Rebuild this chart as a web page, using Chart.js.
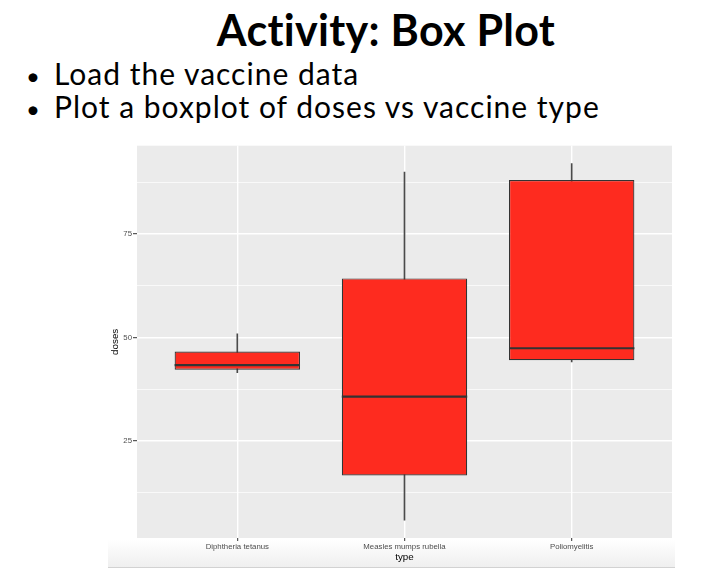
<!DOCTYPE html>
<html>
<head>
<meta charset="utf-8">
<script src="https://cdn.jsdelivr.net/npm/chart.js@4.4.1/dist/chart.umd.min.js"></script>
<style>
  html, body { margin: 0; padding: 0; background: #fff; }
  body { width: 720px; height: 588px; position: relative; overflow: hidden; font-family: Lato, "Open Sans", sans-serif; color: #000; }
  .title { position: absolute; left: 0; width: 772px; top: 4px; text-align: center; font-size: 43px; font-weight: 700; letter-spacing: 0.3px; white-space: nowrap; }
  .bullets { position: absolute; left: 26px; top: 58px; font-size: 30px; line-height: 30px; letter-spacing: 1px; white-space: nowrap; }
  .bullets div::before { content: "\2022"; display: inline-block; width: 28px; font-size: 24px; letter-spacing: 0; }
  .strip { position: absolute; left: 108px; top: 540px; width: 567px; height: 27px;
           background: linear-gradient(#fff, #efefef); border-bottom: 1px solid #d2d2d2; }
  .plot { position: absolute; left: 100px; top: 140px; width: 590px; height: 440px; }
</style>
</head>
<body>
<div class="title">Activity: Box Plot</div>
<div class="bullets">
  <div>Load the vaccine data</div>
  <div>Plot a boxplot of doses vs vaccine type</div>
</div>
<div class="strip"></div>
<div class="plot"><canvas id="boxChart"></canvas></div>

<script>
// ── Data ──
const categories  = ['Diphtheria tetanus', 'Measles mumps rubella', 'Poliomyelitis'];
const typeIndex   = [1, 2, 3];
const whiskerLow  = [41.5,  5.8, 44.1];
const q1          = [42.2, 16.6, 44.5];
const medians     = [43.3, 35.7, 47.4];
const q3          = [46.6, 64.3, 88.1];
const whiskerHigh = [50.9, 90.0, 92.1];

// ── Axis ticks ──
const yMajorTicks = [25, 50, 75];
const yMinorTicks = [12.5, 37.5, 62.5, 87.5];

// ggplot-style 5% expansion of the y range
const yLo  = Math.min(...whiskerLow);
const yHi  = Math.max(...whiskerHigh);
const yPad = (yHi - yLo) * 0.05;

const boxData     = typeIndex.map((x, i) => ({ x, y: [q1[i], q3[i]] }));
const whiskerData = typeIndex.map((x, i) => ({ x, y: [whiskerLow[i], whiskerHigh[i]] }));

// ── Panel background ──
const panelBg = {
  id: 'panelBg',
  beforeDraw(chart) {
    const { ctx, chartArea: a } = chart;
    ctx.save();
    ctx.fillStyle = '#EBEBEB';
    ctx.fillRect(a.left, a.top, a.right - a.left, a.bottom - a.top);
    ctx.restore();
  }
};

// ── Median lines ──
const medianLines = {
  id: 'medianLines',
  afterDatasetsDraw(chart) {
    const { ctx } = chart;
    const meta = chart.getDatasetMeta(0);
    const y = chart.scales.y;
    ctx.save();
    ctx.strokeStyle = '#333333';
    ctx.lineWidth = 2.2;
    meta.data.forEach((bar, i) => {
      const { x, width } = bar.getProps(['x', 'width'], true);
      const py = y.getPixelForValue(medians[i]);
      ctx.beginPath();
      ctx.moveTo(x - width / 2, py);
      ctx.lineTo(x + width / 2, py);
      ctx.stroke();
    });
    ctx.restore();
  }
};

const isMajor = v => yMajorTicks.includes(v);
const axisFont = '"Liberation Sans", Arial, sans-serif';

new Chart(document.getElementById('boxChart').getContext('2d'), {
  type: 'bar',
  data: {
    datasets: [
      {
        label: 'box',
        data: boxData,
        backgroundColor: '#FE2B1F',
        borderColor: '#333333',
        borderWidth: 1.2,
        borderSkipped: false,
        barPercentage: 0.75,
        categoryPercentage: 1,
        grouped: false,
        order: 1
      },
      {
        label: 'whisker',
        data: whiskerData,
        backgroundColor: '#4a4a4a',
        borderWidth: 0,
        barThickness: 1,
        grouped: false,
        order: 2
      }
    ]
  },
  options: {
    responsive: true,
    maintainAspectRatio: false,
    animation: false,
    layout: { padding: { top: 3, right: 18, bottom: 12, left: 0 } },
    plugins: { legend: { display: false }, tooltip: { enabled: false } },
    scales: {
      x: {
        type: 'linear',
        min: 0.4,
        max: 3.6,
        offset: false,
        afterBuildTicks: s => { s.ticks = typeIndex.map(v => ({ value: v })); },
        afterFit: s => { s.height = 30; },
        border: { display: false },
        grid: { offset: false, color: '#FFFFFF', lineWidth: 1.4, tickLength: 3, tickColor: '#333333', tickWidth: 1 },
        ticks: {
          padding: 1,
          color: '#4D4D4D',
          font: { family: axisFont, size: 7.8 },
          callback: v => categories[v - 1] || ''
        },
        title: {
          display: true,
          text: 'type',
          color: '#000',
          font: { family: axisFont, size: 9.8 },
          padding: { top: 0, bottom: 5 }
        }
      },
      y: {
        min: yLo - yPad,
        max: yHi + yPad,
        afterBuildTicks: s => { s.ticks = [...yMinorTicks, ...yMajorTicks].sort((a, b) => a - b).map(v => ({ value: v })); },
        afterFit: s => { s.width = 37; },
        border: { display: false },
        grid: {
          color: '#FFFFFF',
          lineWidth: c => isMajor(c.tick.value) ? 1.4 : 0.7,
          tickLength: 4,
          tickColor: c => isMajor(c.tick.value) ? '#333333' : 'rgba(0,0,0,0)',
          tickWidth: 1
        },
        ticks: {
          padding: 1,
          color: '#4D4D4D',
          font: { family: axisFont, size: 7.8 },
          callback: v => isMajor(v) ? String(v) : ''
        },
        title: {
          display: true,
          text: 'doses',
          color: '#000',
          font: { family: axisFont, size: 9.8 },
          padding: { top: 9, bottom: 0 }
        }
      }
    }
  },
  plugins: [panelBg, medianLines]
});
</script>
</body>
</html>
